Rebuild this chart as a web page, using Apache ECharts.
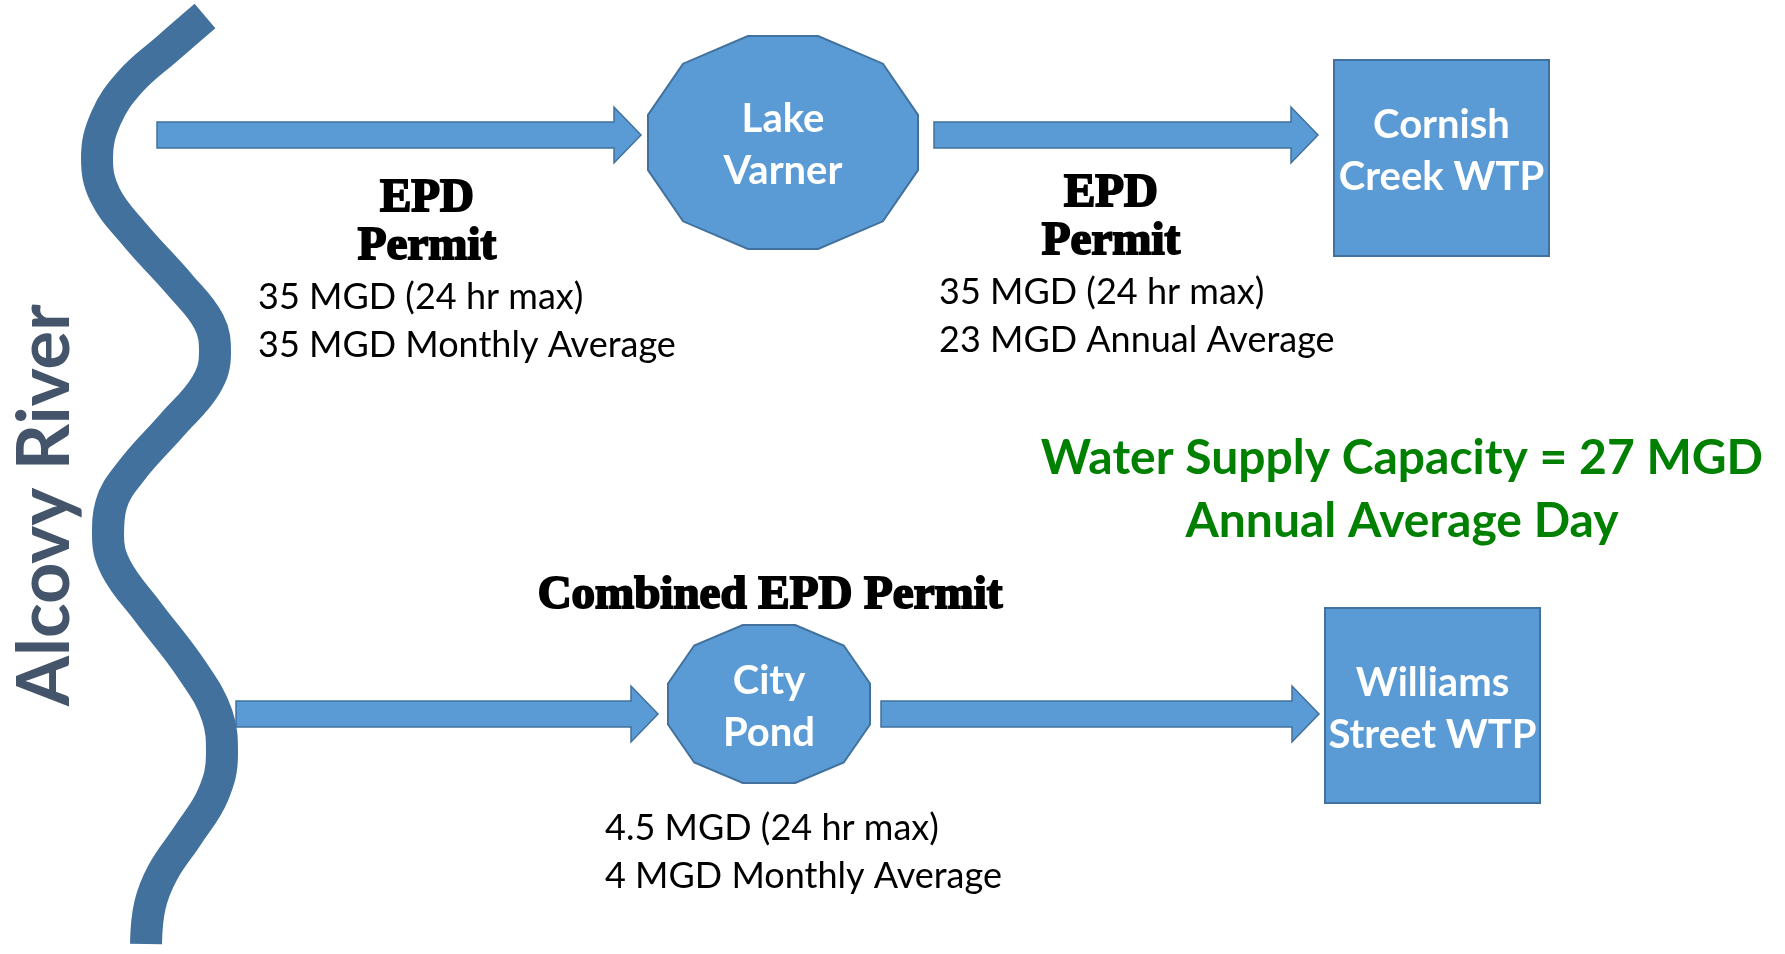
<!DOCTYPE html>
<html>
<head>
<meta charset="utf-8">
<title>Alcovy River water supply</title>
<script src="https://cdn.jsdelivr.net/npm/echarts@6/dist/echarts.min.js"></script>
<style>
html, body { margin: 0; padding: 0; background: #fff; }
#chart { width: 1785px; height: 954px; }
</style>
</head>
<body>
<div id="chart"></div>
<script>
// river centre line (diagram units = px of the 1785x954 sheet)
const riverX = [205, 168, 130, 106, 97, 105, 135, 180, 209, 215, 206, 172, 132, 111, 108, 116, 148, 192, 217, 222, 213, 188, 163, 150, 146]
const riverY = [16, 48, 82, 118, 158, 195, 235, 285, 322, 353, 385, 425, 470, 505, 535, 568, 612, 670, 715, 754, 795, 835, 872, 905, 944]
const riverName = 'Alcovy River'

// flow arrows
const arrowStart = [157, 934, 236, 881]
const arrowTip = [641, 1318, 658, 1319]
const arrowLevel = [135, 135, 714, 714]

// ponds and treatment plants
const nodeNames = ['Lake\nVarner', 'Cornish\nCreek WTP', 'City\nPond', 'Williams\nStreet WTP']
const nodeShape = ['pond', 'plant', 'pond', 'plant']
const nodeLeft = [648, 1334, 668, 1325]
const nodeTop = [36, 60, 625, 608]
const nodeRight = [918, 1549, 870, 1540]
const nodeBottom = [249, 256, 783, 803]
const nodeLabelY = [145, 151, 707, 709]

// permit notes
const permitTitles = ['EPD\nPermit', 'EPD\nPermit', 'Combined EPD Permit']
const permitTitleX = [427, 1111, 770]
const permitTitleY = [223, 218, 596]
const permitLimits = [
  '35 MGD (24 hr max)\n35 MGD Monthly Average',
  '35 MGD (24 hr max)\n23 MGD Annual Average',
  '4.5 MGD (24 hr max)\n4 MGD Monthly Average',
]
const limitX = [258, 939, 605]
const limitY = [321, 316, 852]

const capacityText = 'Water Supply Capacity = 27 MGD\nAnnual Average Day'
const capacityPos = [1402, 490]

// outline of the pond shape, as fractions of its box
const pondFx = [0.37, 0.63, 0.87, 1, 1, 0.87, 0.63, 0.37, 0.13, 0, 0, 0.13]
const pondFy = [0, 0, 0.13, 0.37, 0.63, 0.87, 1, 1, 0.87, 0.63, 0.37, 0.13]

const FILL = '#5B9BD5'
const EDGE = '#41719C'
const SANS = 'Lato, "Open Sans", sans-serif'
const SERIF = '"Liberation Serif", "DejaVu Serif", serif'

const chart = echarts.init(document.getElementById('chart'))

function renderArrow(params, api) {
  const s = api.coord([api.value(0), api.value(2)])
  const t = api.coord([api.value(1), api.value(2)])
  const y = s[1]
  const hx = t[0] - 27
  return {
    type: 'polygon',
    shape: {
      points: [
        [s[0], y - 13], [hx, y - 13], [hx, y - 28], [t[0], y],
        [hx, y + 28], [hx, y + 13], [s[0], y + 13],
      ],
    },
    style: { fill: FILL, stroke: EDGE, lineWidth: 1.5 },
  }
}

function renderNode(params, api) {
  const i = params.dataIndex
  const a = api.coord([api.value(0), api.value(1)])
  const b = api.coord([api.value(2), api.value(3)])
  const ly = api.coord([0, nodeLabelY[i]])[1]
  const w = b[0] - a[0]
  const h = b[1] - a[1]
  let body
  if (nodeShape[i] === 'pond') {
    body = {
      type: 'polygon',
      shape: { points: pondFx.map((f, k) => [a[0] + f * w, a[1] + pondFy[k] * h]) },
    }
  } else {
    body = { type: 'rect', shape: { x: a[0], y: a[1], width: w, height: h } }
  }
  body.style = { fill: FILL, stroke: EDGE, lineWidth: 2 }
  return {
    type: 'group',
    children: [
      body,
      {
        type: 'text',
        style: {
          text: nodeNames[i],
          x: a[0] + w / 2,
          y: ly,
          align: 'center',
          verticalAlign: 'middle',
          fill: '#fff',
          fontFamily: SANS,
          fontWeight: 'bold',
          fontSize: 40,
          lineHeight: 52,
        },
      },
    ],
  }
}

function textSeries(name, points, texts, style, extra) {
  return {
    type: 'custom',
    name: name,
    silent: true,
    z: 5,
    data: points,
    renderItem: function (params, api) {
      const p = api.coord([api.value(0), api.value(1)])
      return Object.assign({
        type: 'text',
        x: p[0],
        y: p[1],
        style: Object.assign({ text: texts[params.dataIndex], x: 0, y: 0 }, style),
      }, extra || {})
    },
  }
}

const option = {
  animation: false,
  backgroundColor: '#fff',
  grid: { left: 0, right: 0, top: 0, bottom: 0 },
  xAxis: { type: 'value', min: 0, max: 1785, show: false },
  yAxis: { type: 'value', min: 0, max: 954, inverse: true, show: false },
  series: [
    {
      type: 'line',
      name: riverName,
      data: riverX.map((x, i) => [x, riverY[i]]),
      smooth: 0.4,
      symbol: 'none',
      silent: true,
      z: 1,
      lineStyle: { color: EDGE, width: 32, cap: 'butt' },
    },
    {
      type: 'custom',
      name: 'flow',
      silent: true,
      z: 2,
      data: arrowStart.map((x, i) => [x, arrowTip[i], arrowLevel[i]]),
      renderItem: renderArrow,
    },
    {
      type: 'custom',
      name: 'nodes',
      silent: true,
      z: 3,
      data: nodeLeft.map((x, i) => [x, nodeTop[i], nodeRight[i], nodeBottom[i]]),
      renderItem: renderNode,
    },
    textSeries('permit titles', permitTitleX.map((x, i) => [x, permitTitleY[i]]), permitTitles, {
      align: 'center', verticalAlign: 'middle', fill: '#000',
      fontFamily: SERIF, fontWeight: 'bold', fontSize: 47, lineHeight: 48,
      stroke: '#000', lineWidth: 2,
    }),
    textSeries('permit limits', limitX.map((x, i) => [x, limitY[i]]), permitLimits, {
      align: 'left', verticalAlign: 'middle', fill: '#000',
      fontFamily: SANS, fontSize: 36, lineHeight: 48,
    }),
    textSeries('capacity', [capacityPos], [capacityText], {
      align: 'center', verticalAlign: 'middle', fill: '#008000',
      fontFamily: SANS, fontWeight: 'bold', fontSize: 48, lineHeight: 63,
    }),
    textSeries('river', [[46, 505]], [riverName], {
      align: 'center', verticalAlign: 'middle', fill: '#44546A',
      fontFamily: SANS, fontWeight: 'bold', fontSize: 72,
    }, { rotation: Math.PI / 2 }),
  ],
}

chart.setOption(option)
</script>
</body>
</html>
